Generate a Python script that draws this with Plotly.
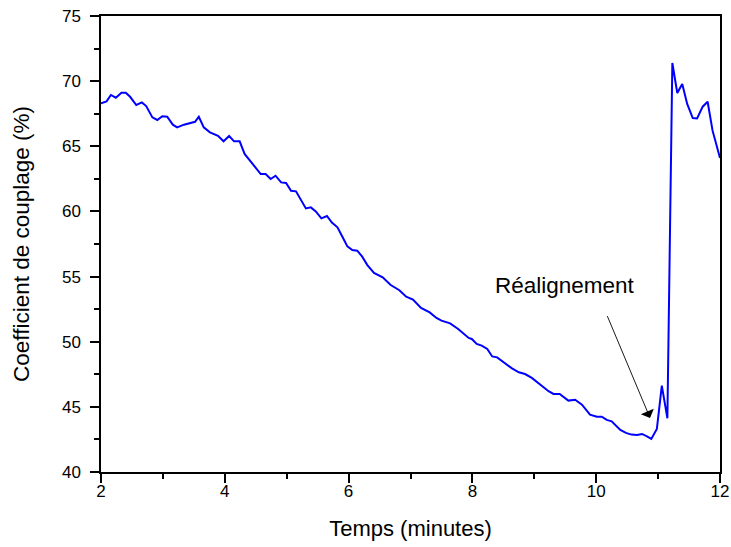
import plotly.graph_objects as go

# Coupling coefficient measured over time (minutes, percent)
temps = [
    2.00, 2.09, 2.16, 2.24, 2.33, 2.40, 2.47, 2.57, 2.66, 2.73,
    2.83, 2.91, 2.99, 3.07, 3.16, 3.23, 3.34, 3.46, 3.52, 3.58,
    3.66, 3.76, 3.89, 3.98, 4.07, 4.15, 4.24, 4.32, 4.43, 4.51,
    4.58, 4.66, 4.74, 4.82, 4.91, 4.99, 5.07, 5.15, 5.31, 5.39,
    5.47, 5.56, 5.65, 5.73, 5.82, 5.90, 5.98, 6.06, 6.14, 6.22,
    6.30, 6.41, 6.49, 6.55, 6.68, 6.82, 6.93, 7.04, 7.17, 7.31,
    7.42, 7.50, 7.64, 7.77, 7.94, 7.99, 8.07, 8.15, 8.24, 8.32,
    8.40, 8.53, 8.64, 8.75, 8.85, 8.96, 9.05, 9.15, 9.23, 9.31,
    9.41, 9.55, 9.66, 9.77, 9.90, 10.01, 10.09, 10.17, 10.25, 10.39,
    10.48, 10.57, 10.66, 10.74, 10.82, 10.89, 10.98, 11.06, 11.15, 11.23,
    11.31, 11.39, 11.47, 11.56, 11.63, 11.72, 11.80, 11.88, 12.00,
]
couplage = [
    68.29, 68.45, 68.94, 68.73, 69.11, 69.11, 68.80, 68.17, 68.37, 68.09,
    67.22, 67.02, 67.30, 67.27, 66.66, 66.45, 66.66, 66.83, 66.88, 67.27,
    66.45, 66.07, 65.81, 65.38, 65.79, 65.38, 65.38, 64.41, 63.76, 63.26,
    62.87, 62.87, 62.49, 62.74, 62.23, 62.18, 61.59, 61.54, 60.23, 60.31,
    60.00, 59.47, 59.65, 59.14, 58.78, 58.05, 57.32, 57.04, 56.99, 56.53,
    55.90, 55.28, 55.05, 54.94, 54.35, 53.95, 53.46, 53.23, 52.59, 52.25,
    51.82, 51.62, 51.41, 50.98, 50.29, 50.21, 49.83, 49.70, 49.44, 48.87,
    48.80, 48.34, 47.95, 47.65, 47.52, 47.22, 46.85, 46.50, 46.20, 45.99,
    45.99, 45.48, 45.55, 45.17, 44.40, 44.25, 44.25, 44.00, 43.89, 43.23,
    43.00, 42.87, 42.84, 42.92, 42.74, 42.54, 43.31, 46.63, 44.12, 71.39,
    69.09, 69.78, 68.25, 67.17, 67.14, 68.04, 68.42, 66.20, 64.10,
]

x_ticks = [2, 4, 6, 8, 10, 12]
y_ticks = [40, 45, 50, 55, 60, 65, 70, 75]

FONT = "Arial, Liberation Sans, sans-serif"

fig = go.Figure()
fig.add_trace(go.Scatter(
    x=temps, y=couplage, mode="lines",
    line=dict(color="#0000FF", width=2),
    showlegend=False, hoverinfo="skip",
))

axis_common = dict(
    showgrid=False, zeroline=False,
    showline=True, mirror=True, linecolor="black", linewidth=1.5,
    ticks="outside", ticklen=9, tickwidth=1.5, tickcolor="black",
    tickfont=dict(family=FONT, size=17, color="black"),
)

fig.update_xaxes(
    range=[2, 12], tickvals=x_ticks, ticktext=[str(v) for v in x_ticks],
    minor=dict(dtick=1, ticks="outside", ticklen=5, tickwidth=1.5, tickcolor="black"),
    title=dict(text="Temps (minutes)", font=dict(family=FONT, size=22, color="black"),
               standoff=20),
    automargin="height+bottom",
    ticklabelstandoff=-6,
    **axis_common,
)
fig.update_yaxes(
    range=[40, 75], tickvals=y_ticks, ticktext=[str(v) for v in y_ticks],
    minor=dict(dtick=2.5, ticks="outside", ticklen=5, tickwidth=1.5, tickcolor="black"),
    title=dict(text="Coefficient de couplage (%)", font=dict(family=FONT, size=22.5, color="black"),
               standoff=26),
    automargin="width+left",
    ticklabelstandoff=6,
    **axis_common,
)

# Label and arrow pointing at the realignment instant
fig.add_annotation(
    x=9.49, y=54.3, xref="x", yref="y", text="Réalignement", showarrow=False,
    font=dict(family=FONT, size=22.5, color="black"),
)
fig.add_annotation(
    x=10.87, y=44.15, ax=10.17, ay=52.08, xref="x", yref="y", axref="x", ayref="y",
    text="", showarrow=True, arrowhead=1, arrowsize=2.6, arrowwidth=0.9, arrowcolor="black",
)

fig.update_layout(
    width=731, height=547,
    margin=dict(l=101, r=9, t=16, b=75),
    paper_bgcolor="white", plot_bgcolor="white",
    font=dict(family=FONT, color="black"),
)

fig.write_html("out.html")
